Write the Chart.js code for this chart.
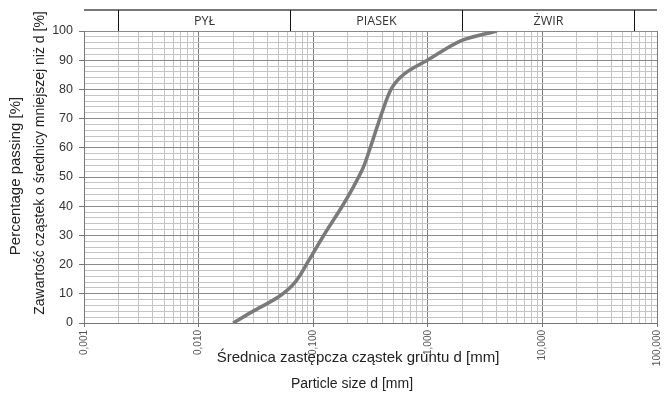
<!DOCTYPE html>
<html>
<head>
<meta charset="utf-8">
<script src="https://cdn.jsdelivr.net/npm/chart.js@4"></script>
<style>
  html, body { margin: 0; padding: 0; background: #fff; }
  #wrap { width: 672px; height: 396px; }
</style>
</head>
<body>
<div id="wrap"><canvas id="grain"></canvas></div>
<script>
// grain size curve
const diameters = [0.02, 0.0295, 0.050, 0.070, 0.092, 0.128, 0.178, 0.225, 0.275, 0.324, 0.396, 0.484, 0.632, 1.0, 1.96, 4.0];
const passing   = [0, 3.9, 9.0, 14.1, 21.6, 31.0, 39.8, 46.7, 53.5, 61.5, 71.8, 80.4, 85.5, 90.1, 96.7, 100];

const decades     = [0.001, 0.01, 0.1, 1, 10, 100];
const decadeLabels = ['0,001', '0,010', '0,100', '1,000', '10,000', '100,000'];

// soil fraction bands along the top
const fractionEdges = [0.002, 0.063, 2, 63];
const fractionNames = ['PYŁ', 'PIASEK', 'ŻWIR'];

const yTitlePL = 'Zawartość cząstek o średnicy mniejszej niż d [%]';
const yTitleEN = 'Percentage passing [%]';
const xTitlePL = 'Średnica zastępcza cząstek gruntu d [mm]';
const xTitleEN = 'Particle size d [mm]';

Chart.defaults.font.family = '"Liberation Sans", Arial, sans-serif';
Chart.defaults.animation = false;

// all 1..9 x 10^k ticks for the log grid
const logTicks = [];
decades.forEach((d, i) => {
  if (i === decades.length - 1) { logTicks.push(d); return; }
  for (let m = 1; m <= 9; m++) logTicks.push(+(d * m).toPrecision(3));
});

const isDecade = v => decades.some(d => Math.abs(Math.log10(v) - Math.log10(d)) < 1e-6);

// header band + axis titles
const extras = {
  id: 'extras',
  afterDraw(chart) {
    const ctx = chart.ctx;
    const x = chart.scales.x;
    const area = chart.chartArea;
    const top = 10;
    ctx.save();
    ctx.strokeStyle = '#777';
    ctx.lineWidth = 2;
    ctx.beginPath();
    ctx.moveTo(area.left, top);
    ctx.lineTo(area.right, top);
    ctx.stroke();

    ctx.strokeStyle = '#111';
    ctx.lineWidth = 1;
    const px = fractionEdges.map(v => Math.round(x.getPixelForValue(v)) + 0.5);
    px.forEach(p => {
      ctx.beginPath();
      ctx.moveTo(p, top);
      ctx.lineTo(p, area.top);
      ctx.stroke();
    });

    ctx.fillStyle = '#333';
    ctx.font = '12.5px "Open Sans", sans-serif';
    ctx.textAlign = 'center';
    ctx.textBaseline = 'middle';
    fractionNames.forEach((name, i) => {
      ctx.fillText(name, (px[i] + px[i + 1]) / 2, 21);
    });

    // axis titles
    ctx.fillStyle = '#222';
    ctx.font = '15px "Liberation Sans", Arial, sans-serif';
    ctx.fillText(xTitlePL, 358, 358);
    ctx.font = '14px "Liberation Sans", Arial, sans-serif';
    ctx.fillText(xTitleEN, 352, 384);

    ctx.translate(16, 176);
    ctx.rotate(-Math.PI / 2);
    ctx.font = '15px "Liberation Sans", Arial, sans-serif';
    ctx.fillText(yTitleEN, 0, 0);
    ctx.rotate(Math.PI / 2);
    ctx.translate(-16, -176);

    ctx.translate(40, 163);
    ctx.rotate(-Math.PI / 2);
    ctx.font = '14px "Liberation Sans", Arial, sans-serif';
    ctx.fillText(yTitlePL, 0, 0);
    ctx.restore();
  }
};

new Chart(document.getElementById('grain'), {
  type: 'line',
  data: {
    datasets: [{
      data: diameters.map((d, i) => ({ x: d, y: passing[i] })),
      borderColor: '#7a7a7a',
      borderWidth: 3.5,
      pointRadius: 0,
      tension: 0.3,
      fill: false
    }]
  },
  options: {
    responsive: true,
    maintainAspectRatio: false,
    layout: { padding: { top: 31, right: 12, left: 0, bottom: 0 } },
    plugins: { legend: { display: false }, tooltip: { enabled: false } },
    scales: {
      x: {
        type: 'logarithmic',
        min: 0.001,
        max: 100,
        afterBuildTicks: s => { s.ticks = logTicks.map(v => ({ value: v })); },
        afterFit: s => { s.height = 73; },
        border: { color: '#777' },
        grid: {
          color: c => (c.tick && isDecade(c.tick.value)) ? '#7c7c7c' : '#c4c4c4',
          tickColor: c => (c.tick && isDecade(c.tick.value)) ? '#777' : 'rgba(0,0,0,0)',
          tickLength: 4
        },
        ticks: {
          autoSkip: false,
          minRotation: 90,
          maxRotation: 90,
          padding: 3,
          color: '#555',
          font: { size: 10 },
          callback: v => {
            const i = decades.findIndex(d => Math.abs(Math.log10(v) - Math.log10(d)) < 1e-6);
            return i >= 0 ? decadeLabels[i] : '';
          }
        }
      },
      y: {
        min: 0,
        max: 100,
        afterFit: s => { s.width = 84; },
        border: { color: '#777' },
        grid: {
          color: c => (c.tick && c.tick.value % 10 === 0) ? '#8a8a8a' : '#c4c4c4',
          tickColor: c => (c.tick && c.tick.value % 10 === 0) ? '#777' : 'rgba(0,0,0,0)',
          tickLength: 5
        },
        ticks: {
          stepSize: 2,
          autoSkip: false,
          padding: 6,
          color: '#333',
          font: { size: 12.5 },
          callback: v => (v % 10 === 0 ? v : '')
        }
      }
    }
  },
  plugins: [extras]
});
</script>
</body>
</html>
